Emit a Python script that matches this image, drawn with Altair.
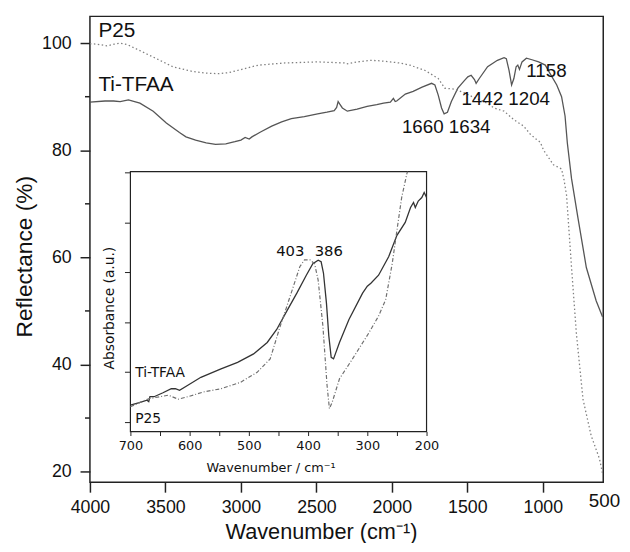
import altair as alt
import pandas as pd

# ---------------- main spectra (DRS, reflectance %) ----------------
ti_wn = [4000, 3900, 3843, 3800, 3745, 3669, 3581, 3494, 3407, 3364, 3300, 3230, 3168, 3100,
         3040, 3000, 2972, 2945, 2927, 2870, 2796, 2730, 2666, 2580, 2492, 2430, 2382, 2366,
         2356, 2345, 2328, 2295, 2230, 2164, 2100, 2055, 2010, 1990, 1978, 1968, 1911, 1859,
         1800, 1737, 1715, 1693, 1671, 1654, 1632, 1606, 1563, 1520, 1497, 1475, 1453, 1442,
         1421, 1366, 1301, 1257, 1242, 1224, 1207, 1192, 1177, 1166, 1155, 1138, 1109, 1072,
         1028, 984, 952, 908, 876, 853, 838, 810, 767, 712, 647, 605]
ti_r = [89.0, 89.2, 89.2, 89.1, 89.4, 88.8, 87.3, 85.1, 83.3, 82.5, 81.9, 81.4, 81.1, 81.2,
        81.6, 81.9, 82.4, 82.1, 82.5, 83.4, 84.5, 85.3, 85.9, 86.3, 86.8, 87.1, 87.4, 88.0,
        89.1, 88.6, 87.9, 87.3, 87.7, 88.2, 88.5, 88.8, 89.0, 89.7, 89.1, 89.2, 90.5, 91.0,
        91.8, 92.5, 92.2, 90.3, 87.9, 86.8, 87.1, 89.1, 91.6, 93.0, 93.7, 94.0, 93.2, 92.5,
        93.4, 95.6, 96.8, 97.3, 97.1, 94.9, 92.2, 93.4, 95.6, 95.9, 95.1, 96.5, 97.2, 96.9,
        96.5, 95.9, 94.3, 92.2, 90.0, 86.4, 81.4, 74.7, 67.3, 58.1, 51.9, 48.9]

p25_wn = [4000, 3950, 3887, 3840, 3800, 3750, 3691, 3581, 3451, 3320, 3230, 3146, 3080, 3037,
          2927, 2880, 2840, 2709, 2600, 2492, 2400, 2317, 2300, 2230, 2142, 2080, 2011, 1950,
          1881, 1780, 1693, 1650, 1584, 1519, 1460, 1389, 1323, 1257, 1192, 1127, 1083, 1050,
          1017, 995, 930, 876, 860, 843, 810, 778, 734, 680, 625, 605]
p25_r = [99.9, 99.8, 99.5, 99.8, 100.0, 99.7, 98.9, 97.4, 95.6, 94.7, 94.4, 94.3, 94.5, 94.8,
         95.6, 95.9, 96.0, 96.3, 96.4, 96.5, 96.4, 96.3, 96.1, 96.5, 96.8, 96.7, 96.5, 96.3,
         95.9, 94.9, 93.4, 91.6, 91.4, 90.7, 89.9, 89.1, 87.9, 87.3, 85.7, 84.5, 83.0, 82.2,
         81.5, 80.0, 77.3, 76.5, 74.5, 71.6, 58.1, 45.8, 33.5, 26.7, 22.4, 19.7]

# ---------------- inset spectra (absorbance, a.u.) ----------------
in_ti_wn = [700, 685, 672, 669, 667, 660, 645, 631, 624, 617, 603, 581, 547, 519, 492, 469,
            453, 436, 419, 403, 392, 383, 378, 374, 369, 365, 361, 357, 347, 331, 308, 300,
            294, 281, 264, 250, 236, 227, 222, 219, 214, 208, 204, 200]
in_ti_a = [0.33, 0.38, 0.43, 0.40, 0.50, 0.50, 0.58, 0.66, 0.66, 0.63, 0.73, 0.89, 1.06, 1.19,
           1.36, 1.59, 1.85, 2.22, 2.58, 2.94, 3.17, 3.24, 3.21, 2.98, 2.38, 1.72, 1.29, 1.26,
           1.59, 2.05, 2.58, 2.72, 2.78, 2.94, 3.31, 3.74, 4.00, 4.30, 4.40, 4.30, 4.43, 4.50,
           4.60, 4.50]
in_p25_wn = [700, 669, 636, 619, 603, 575, 547, 514, 486, 464, 447, 436, 425, 414, 406, 397,
             389, 383, 375, 368, 364, 359, 347, 325, 297, 281, 269, 258, 250, 242, 233, 232]
in_p25_a = [0.30, 0.46, 0.53, 0.45, 0.50, 0.60, 0.66, 0.79, 0.99, 1.26, 1.92, 2.31, 2.71, 3.11,
            3.25, 3.25, 3.17, 2.84, 1.92, 0.73, 0.26, 0.40, 0.86, 1.26, 1.79, 2.12, 2.45, 3.17,
            3.84, 4.50, 4.99, 5.02]

# ---------------- ticks and labels ----------------
main_x_ticks = [4000, 3500, 3000, 2500, 2000, 1500, 1000]
main_y_ticks = [20, 40, 60, 80, 100]
main_y_minor = [30, 50, 70, 90]
inset_x_ticks = [700, 650, 600, 550, 500, 450, 400, 350, 300, 250, 200]
inset_y_ticks = [0, 1, 2, 3, 4, 5]

series_left_text = ["P25", "Ti-TFAA"]
series_left_wn = [3944, 3944]
series_left_r = [101.1, 91.0]

peak_text = ["1660 1634", "1442 1204", "1158", "500"]
peak_wn = [1640, 1246, 976, 592]
peak_r = [83.3, 88.5, 93.6, 13.4]

in_left_text = ["Ti-TFAA", "P25"]
in_left_wn = [692, 692]
in_left_a = [0.89, -0.03]
in_peak_text = ["403", "386"]
in_peak_wn = [430, 365]
in_peak_a = [3.33, 3.33]

inset_x_dom = [700, 200]
inset_y_dom = [-0.2, 5.02]

# ---------------- build tables ----------------
df_ti = pd.DataFrame({"wn": ti_wn, "r": ti_r})
df_p25 = pd.DataFrame({"wn": p25_wn, "r": p25_r})
df_minor = pd.DataFrame({"r": main_y_minor})
df_left = pd.DataFrame({"wn": series_left_wn, "r": series_left_r, "t": series_left_text})
df_peak = pd.DataFrame({"wn": peak_wn, "r": peak_r, "t": peak_text})

df_in_ti = pd.DataFrame({"v": in_ti_wn, "a": in_ti_a})
df_in_p25 = pd.DataFrame({"v": in_p25_wn, "a": in_p25_a})
df_in_left = pd.DataFrame({"v": in_left_wn, "a": in_left_a, "t": in_left_text})
df_in_peak = pd.DataFrame({"v": in_peak_wn, "a": in_peak_a, "t": in_peak_text})
df_frame = pd.DataFrame({"v": [inset_x_dom[0]], "v2": [inset_x_dom[1]],
                         "a": [inset_y_dom[0]], "a2": [inset_y_dom[1]]})

W, H = 520, 472
MAIN_FONT = "Liberation Sans"
INSET_FONT = "DejaVu Sans"
INK = "#111111"

xs_main = alt.Scale(domain=[600, 4000], reverse=True, nice=False, zero=False)
ys_main = alt.Scale(domain=[18, 105], nice=False, zero=False)

x_axis_main = alt.Axis(values=main_x_ticks, format="d", title="Wavenumber  (cm\u207b\u00b9)",
                       labelFont=MAIN_FONT, labelFontSize=18, labelColor=INK, labelPadding=7,
                       labelFlush=False, labelOverlap=False,
                       tickSize=10, tickColor="#222", tickWidth=1.5, domain=False, grid=False,
                       titleFont=MAIN_FONT, titleFontSize=22, titleFontWeight="normal",
                       titleColor=INK, titleX=234, titleY=57, titleAlign="center",
                       titleBaseline="alphabetic")
y_axis_main = alt.Axis(values=main_y_ticks, format="d", title="Reflectance (%)",
                       labelFont=MAIN_FONT, labelFontSize=18, labelColor=INK, labelPadding=9,
                       labelOverlap=False, labelFlush=False,
                       tickSize=10, tickColor="#222", tickWidth=1.5, domain=False, grid=False,
                       titleFont=MAIN_FONT, titleFontSize=23, titleFontWeight="normal",
                       titleColor=INK, titleX=-59, titleY=243, titleAngle=270,
                       titleAlign="center", titleBaseline="alphabetic")

main_ti = alt.Chart(df_ti).mark_line(color="#555555", strokeWidth=1.3).encode(
    x=alt.X("wn:Q", scale=xs_main, axis=x_axis_main),
    y=alt.Y("r:Q", scale=ys_main, axis=y_axis_main),
)
main_p25 = alt.Chart(df_p25).mark_line(color="#808080", strokeWidth=1.3,
                                       strokeDash=[1.5, 2.5]).encode(x="wn:Q", y="r:Q")
minor = alt.Chart(df_minor).mark_rule(color="#222", strokeWidth=1.5).encode(
    y="r:Q", x=alt.value(-5), x2=alt.value(0))
txt_left = alt.Chart(df_left).mark_text(font=MAIN_FONT, fontSize=21, align="left",
                                        baseline="alphabetic", color=INK).encode(
    x="wn:Q", y="r:Q", text="t:N")
txt_peak = alt.Chart(df_peak).mark_text(font=MAIN_FONT, fontSize=19, align="center",
                                        baseline="alphabetic", color=INK).encode(
    x="wn:Q", y="r:Q", text="t:N")

main = alt.layer(main_ti, main_p25, minor, txt_left, txt_peak)

# ---------------- inset ----------------
xs_in = alt.Scale(domain=inset_x_dom, range=[41, 341], nice=False, zero=False)
ys_in = alt.Scale(domain=inset_y_dom, range=[420.6, 157.3], nice=False, zero=False)

x_axis_in = alt.Axis(orient="bottom", offset=-51.4, values=inset_x_ticks, format="d",
                     labelExpr="datum.value % 100 == 0 ? datum.label : ''",
                     labelFont=INSET_FONT, labelFontSize=13, labelColor=INK, labelPadding=4,
                     labelFlush=False, labelOverlap=False,
                     tickSize=4, tickColor="#222", tickWidth=1, domain=False, grid=False,
                     title="Wavenumber / cm\u207b\u00b9", titleFont=INSET_FONT, titleFontSize=13,
                     titleFontWeight="normal", titleColor=INK, titleX=183, titleY=40,
                     titleAlign="center", titleBaseline="alphabetic")
y_axis_in = alt.Axis(orient="left", offset=-41, values=inset_y_ticks, labels=False,
                     tickSize=6, tickColor="#222", tickWidth=1, domain=False, grid=False,
                     title="Absorbance (a.u.)", titleFont=INSET_FONT, titleFontSize=14,
                     titleFontWeight="normal", titleColor=INK, titleX=-17, titleY=295,
                     titleAngle=270, titleAlign="center", titleBaseline="alphabetic")

frame = alt.Chart(df_frame).mark_rect(fill="white", stroke="#222", strokeWidth=1.2).encode(
    x=alt.X("v:Q", scale=xs_in, axis=x_axis_in), x2="v2:Q",
    y=alt.Y("a:Q", scale=ys_in, axis=y_axis_in), y2="a2:Q")
in_ti = alt.Chart(df_in_ti).mark_line(color="#333333", strokeWidth=1.3).encode(
    x="v:Q", y="a:Q")
in_p25 = alt.Chart(df_in_p25).mark_line(color="#707070", strokeWidth=1.2,
                                        strokeDash=[4, 2, 1, 2]).encode(x="v:Q", y="a:Q")
in_txt_left = alt.Chart(df_in_left).mark_text(font=INSET_FONT, fontSize=14, align="left",
                                              baseline="alphabetic", color=INK).encode(
    x="v:Q", y="a:Q", text="t:N")
in_txt_peak = alt.Chart(df_in_peak).mark_text(font=INSET_FONT, fontSize=15, align="center",
                                              baseline="alphabetic", color=INK).encode(
    x="v:Q", y="a:Q", text="t:N")

inset = alt.layer(frame, in_ti, in_p25, in_txt_left, in_txt_peak)

chart = alt.layer(main, inset).resolve_scale(x="independent", y="independent").properties(
    width=W, height=H,
    padding={"left": 83, "top": 5, "right": 19, "bottom": 58},
    autosize=alt.AutoSizeParams(type="none"),
    background="white",
).configure_view(stroke="#222", strokeWidth=1.5)

chart.save("out.html", embed_options={"renderer": "svg", "actions": False})
